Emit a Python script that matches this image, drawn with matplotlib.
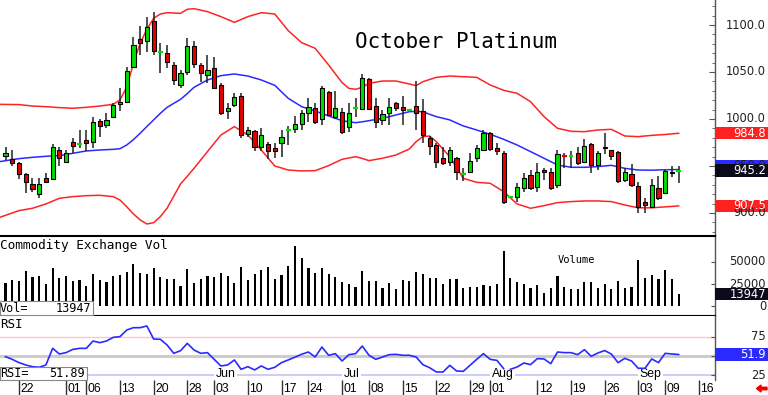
import matplotlib
matplotlib.use("Agg")
import matplotlib.pyplot as plt
from matplotlib.patches import Rectangle, FancyArrow
from matplotlib.transforms import blended_transform_factory
from matplotlib.ticker import MultipleLocator
import numpy as np

W, H = 768, 395

# ---- data: one entry per trading day, index 0 = 17 Apr 2019, index 100 = 11 Sep 2019 ----
opens = [961, 957.5, 953.5, 941, 931, 920, 937.5, 936, 967, 954.5,
         975, 973.5, 977.5, 976, 998, 993.5, 1002, 1015.5, 1018.5, 1055,
         1085, 1083.5, 1104.5, 1071, 1070.5, 1057.5, 1036, 1049.5, 1077.5, 1057,
         1047, 1054, 1036, 1009, 1015, 1024.5, 984, 987, 970.5, 973,
         969, 974, 988, 989, 994.5, 1006, 1011.5, 1000.5, 1028.5, 1002.5,
         1007, 991, 1011.5, 1010.5, 1042.5, 1014, 999, 1006.5, 1016.5, 1013,
         1009.5, 1014, 1008, 980, 972.5, 958, 954, 959, 941.5, 944,
         958, 967.5, 985.5, 969.5, 964, 917.5, 917.5, 926.5, 940.5, 928,
         945.5, 944, 930, 961, 960.5, 963.5, 954.5, 973, 951, 969,
         966.5, 964.5, 935, 941.5, 928.5, 912, 906.5, 926.5, 921.5, 943.5,
         945]
highs = [970.5, 967.5, 954.5, 942, 937, 937, 943, 973.5, 970.5, 967,
         980, 988, 988, 1002, 999.5, 1006, 1016.5, 1032.5, 1055.5, 1087.5,
         1099, 1109, 1114, 1080.5, 1078.5, 1061, 1052, 1086, 1082.5, 1060,
         1068, 1065.5, 1038, 1016.5, 1027.5, 1027.5, 992, 988.5, 990, 976,
         974, 988, 992.5, 1003, 1009.5, 1022, 1016.5, 1035, 1030, 1030,
         1011.5, 1016.5, 1022.5, 1048, 1043.5, 1022, 1009.5, 1022, 1018.5, 1024,
         1011, 1040.5, 1021, 982, 974, 970.5, 970.5, 960, 947.5, 963.5,
         972.5, 988, 986.5, 974, 965.5, 918, 931.5, 942, 945.5, 953,
         947.5, 947.5, 967.5, 963.5, 965.5, 970.5, 978.5, 974, 965.5, 985.5,
         967, 965.5, 947.5, 952, 932.5, 915.5, 936, 939.5, 945.5, 949.5,
         950]
lows = [956.5, 949.5, 936, 921, 922.5, 915.5, 931.5, 935, 949.5, 953,
        963.5, 969, 965.5, 969, 981, 990, 1001.5, 1008, 1018, 1054,
        1068, 1071.5, 1068, 1048.5, 1054, 1036, 1033.5, 1047, 1054, 1039.5,
        1038, 1031.5, 1004, 999.5, 1013, 979.5, 980.5, 965.5, 965.5, 957,
        958, 960, 972, 985, 988.5, 997, 994.5, 993.5, 1003, 1000.5,
        984, 986.5, 1002.5, 1009.5, 1009.5, 990, 993.5, 993.5, 1008, 993.5,
        1008, 988.5, 974, 961.5, 947.5, 951, 949.5, 935, 933.5, 942,
        954.5, 967, 965.5, 961.5, 909.5, 917, 912, 922.5, 924.5, 922.5,
        935, 924.5, 926.5, 947.5, 947.5, 951, 953, 942, 945.5, 963,
        956.5, 931.5, 932.5, 928, 900.5, 899.5, 906, 914, 920, 938.5,
        931.5]
closes = [963.5, 953, 941.5, 932.5, 926, 931, 932.5, 970.5, 958, 964,
          971.5, 973.5, 974, 996.5, 993, 999, 1015, 1018.5, 1051.5, 1078.5,
          1080.5, 1098, 1072.5, 1071, 1061, 1041, 1048.5, 1077.5, 1058.5, 1048.5,
          1052, 1033.5, 1006, 1012, 1023, 983, 988, 970.5, 983, 965.5,
          966, 981, 988, 994.5, 1006, 1012.5, 997, 1033.5, 1004.5, 1011.5,
          986.5, 1006, 1011.5, 1044, 1010.5, 997, 1005, 1012.5, 1011.5, 1009.5,
          1009.5, 1006, 983, 971.5, 954, 953.5, 967, 944, 941.5, 955.5,
          969, 985, 968, 965.5, 912, 917.5, 927.5, 937, 926.5, 944,
          944, 926.5, 963, 960.5, 961, 953, 971.5, 951, 963.5, 970.5,
          961, 934.5, 944, 930, 906.5, 908.5, 930, 915.5, 945, 942.5,
          945.2]
volume = [26600, 29600, 28900, 40000, 33300, 34400, 25200, 43300, 31500, 34000,
          28900, 29600, 22900, 36300, 29600, 27000, 34400, 35200, 38900, 48100,
          37700, 36300, 42900, 32600, 30300, 30300, 22900, 41800, 26600, 30700,
          34000, 33300, 37700, 34000, 25900, 44400, 29600, 35900, 41400, 44400,
          30700, 35200, 45100, 67700, 54400, 42900, 37700, 43300, 36600, 33300,
          27400, 25500, 21800, 39600, 28500, 28500, 21100, 26600, 20000, 29200,
          28500, 38900, 36600, 31400, 32200, 24800, 31100, 30300, 21100, 21800,
          21800, 23700, 22900, 24800, 61800, 32200, 27400, 24800, 20400, 23700,
          14800, 21100, 34000, 22200, 19200, 20000, 27400, 27400, 21100, 25500,
          20000, 28500, 21100, 21800, 52500, 31400, 35100, 30300, 41400, 31100,
          13947]
rsi = [49.1, 45.7, 41.5, 38.5, 36.3, 35.5, 38.5, 59.8, 52.6, 54.3,
       58.5, 59.8, 59.8, 69.2, 67.1, 69.2, 73.9, 74.8, 83.3, 86.3,
       86.3, 88.5, 71.8, 71.4, 64.1, 53.4, 56.8, 66.2, 57.7, 53.4,
       54.3, 45.7, 37.2, 38.5, 44.9, 32.9, 36.3, 32.1, 37.2, 32.9,
       35.5, 41.5, 44.9, 48.5, 52.3, 55.1, 48.7, 61.5, 50.9, 53.0,
       43.6, 51.7, 53.0, 62.8, 50.9, 45.7, 48.7, 51.7, 52.1, 50.9,
       50.9, 48.7, 38.9, 35.0, 29.5, 29.5, 38.0, 30.8, 30.3, 38.0,
       45.7, 53.0, 45.7, 44.4, 33.8, 32.9, 35.9, 41.0, 38.9, 46.6,
       46.2, 40.2, 55.1, 54.3, 54.3, 51.7, 58.1, 49.6, 53.8, 57.0,
       52.5, 41.5, 47.0, 43.6, 34.2, 34.2, 46.2, 41.5, 53.4, 52.6,
       51.89]
rsi_break = 75  # the RSI line is not joined between day 74 and day 75

# Bollinger bands, read at these day indices
band_idx = [-1, 2, 4, 6, 8, 10, 12, 14, 16, 17, 18, 19, 20, 21, 22, 23, 24, 26, 27, 28,
            30, 32, 34, 36, 38, 40, 42, 44, 46, 48, 50, 51, 52, 53, 54, 56, 58, 60, 61, 62,
            63, 64, 66, 68, 70, 72, 74, 76, 78, 80, 82, 84, 86, 88, 90, 92, 94, 96, 98, 100]
upper_band = [1015.6, 1015.3, 1013.8, 1013.1, 1012.1, 1011.4, 1012.4, 1013.8, 1015.6, 1020.2,
              1033.7, 1059.2, 1080.5, 1095.4, 1107.1, 1111.7, 1113.1, 1112.4, 1116.7, 1117.4,
              1114.2, 1108.9, 1102.8, 1108.9, 1113.1, 1111.7, 1094.0, 1081.2, 1075.2, 1057.5,
              1038.7, 1032.6, 1031.6, 1033.7, 1038.0, 1040.4, 1040.4, 1037.2, 1035.5, 1039.7,
              1042.0, 1044.3, 1045.7, 1045.0, 1044.3, 1036.2, 1030.5, 1027.3, 1018.4, 1002.5,
              990.1, 986.9, 986.5, 988.3, 989.0, 981.9, 981.2, 982.6, 983.5, 984.8]
middle_band = [954.5, 957.8, 959.2, 960.3, 961.0, 963.5, 966.0, 967.0, 967.7, 968.4,
               972.3, 978.0, 984.8, 992.0, 999.0, 1006.0, 1012.4, 1020.9, 1027.0, 1033.7,
               1041.5, 1046.1, 1047.9, 1045.7, 1041.5, 1035.8, 1022.0, 1013.1, 1008.5, 1003.2,
               998.2, 997.0, 996.1, 997.0, 998.2, 1000.7, 1004.3, 1007.8, 1008.0, 1007.8,
               1005.0, 1002.5, 999.0, 992.6, 988.3, 983.7, 978.4, 972.3, 965.3, 958.2,
               951.1, 948.6, 948.6, 949.3, 950.7, 947.5, 945.7, 945.5, 946.0, 946.2]
lower_band = [895.0, 902.5, 905.0, 909.6, 915.6, 917.4, 918.4, 918.8, 917.4, 913.8,
              906.7, 899.0, 892.6, 888.3, 889.7, 896.1, 905.0, 930.9, 939.0, 947.5,
              965.3, 983.0, 991.9, 983.0, 967.0, 950.0, 945.7, 944.7, 945.0, 950.4,
              957.1, 958.5, 959.9, 958.0, 955.7, 958.2, 961.7, 968.1, 975.9, 981.2,
              981.9, 975.9, 959.9, 936.9, 932.6, 931.6, 922.7, 909.6, 905.0, 907.8,
              911.0, 912.1, 912.8, 912.8, 912.1, 908.5, 905.5, 905.5, 906.5, 907.5]

tick_idx = [2, 9, 12, 17, 22, 27, 31, 36, 41, 45, 50, 54, 59, 64, 69, 72, 79, 84, 89, 94, 98, 103]
tick_labels = ["22", "01", "06", "13", "20", "28", "03", "10", "17", "24", "01",
               "08", "15", "22", "29", "01", "12", "19", "26", "03", "09", "16"]
month_idx = [31, 50, 72, 94]
month_labels = ["Jun", "Jul", "Aug", "Sep"]

price_ticks = [900, 950, 1000, 1050, 1100]
vol_ticks = [0, 25000, 50000]
rsi_ticks = [25, 75]

GREEN = "#00e000"
RED = "#e80000"
BAND_RED = "#ff2424"
BLUE = "#2a2aff"

fig = plt.figure(figsize=(W / 100, H / 100), dpi=100, facecolor="white")


def px_rect(left, top, right, bottom):
    return [left / W, 1 - bottom / H, (right - left) / W, (bottom - top) / H]


ax_p = fig.add_axes(px_rect(0, 0, 715, 236))
ax_v = fig.add_axes(px_rect(0, 236, 715, 316))
ax_r = fig.add_axes(px_rect(0, 316, 715, 380))
ax_d = fig.add_axes(px_rect(0, 380, 715, 395))

for a in (ax_p, ax_v, ax_r, ax_d):
    a.set_xlim(-0.82, 105.4)
    a.set_xticks([])
    for s in ("left", "top", "bottom"):
        a.spines[s].set_visible(False)
    a.spines["right"].set_color("#555555")
    a.spines["right"].set_linewidth(1.0)
    a.yaxis.tick_right()
    a.tick_params(axis="y", which="both", direction="in", color="#555555",
                  labelright=False, labelleft=False)
ax_d.spines["right"].set_visible(False)
ax_d.set_yticks([])
ax_d.set_ylim(0, 1)

# ---- price panel ----
x = np.arange(len(closes))
o = np.array(opens)
c = np.array(closes)
up = c >= o
flat = np.abs(c - o) < 0.8

ax_p.vlines(x, lows, highs, color="#202020", lw=1.1, zorder=3)
body = ~flat
ax_p.bar(x[body], np.abs(c - o)[body], bottom=np.minimum(o, c)[body], width=0.62,
         color=np.where(up, GREEN, RED)[body], edgecolor="black", linewidth=0.8, zorder=4)
ax_p.hlines(o[flat], x[flat] - 0.34, x[flat] + 0.34,
            colors=np.where(up, GREEN, RED)[flat], lw=1.6, zorder=4)

ax_p.plot(band_idx, upper_band, color=BAND_RED, lw=1.1, zorder=2)
ax_p.plot(band_idx, lower_band, color=BAND_RED, lw=1.1, zorder=2)
ax_p.plot(band_idx, middle_band, color=BLUE, lw=1.1, zorder=2)

ax_p.set_ylim(875.5, 1126.6)
ax_p.set_yticks(price_ticks)
ax_p.yaxis.set_minor_locator(MultipleLocator(10))
ax_p.tick_params(axis="y", which="major", length=4)
ax_p.tick_params(axis="y", which="minor", length=2)

fig.text(355 / W, 1 - 48 / H, "October Platinum", family="DejaVu Sans Mono",
         fontsize=15, va="baseline", ha="left", color="black")

# ---- volume panel ----
ax_v.bar(x, volume, width=0.32, color="black", zorder=2)
ax_v.set_ylim(-10650, 79000)
ax_v.set_yticks(vol_ticks)
ax_v.tick_params(axis="y", length=3)
for s in ("top", "bottom"):
    ax_v.spines[s].set_visible(True)
    ax_v.spines[s].set_color("black")
    ax_v.spines[s].set_linewidth(1.5)

fig.text(0, 1 - 248.5 / H, "Commodity Exchange Vol", family="DejaVu Sans Mono",
         fontsize=9.2, va="baseline", ha="left")
fig.text(558 / W, 1 - 263 / H, "Volume", family="DejaVu Sans Mono",
         fontsize=7.5, va="baseline", ha="left")

# ---- RSI panel ----
ax_r.set_ylim(19.2, 101.3)
ax_r.set_yticks(rsi_ticks + [50])
ax_r.tick_params(axis="y", length=3)
ax_r.axhline(75, color="#ffc4c4", lw=1.0, zorder=1)
ax_r.axhline(50, color="#cccccc", lw=2.2, zorder=1)
ax_r.axhline(25, color="#c4c4f4", lw=1.2, zorder=1)
ax_r.plot(x[:rsi_break], rsi[:rsi_break], color=BLUE, lw=1.2, zorder=3)
ax_r.plot(x[rsi_break:], rsi[rsi_break:], color=BLUE, lw=1.2, zorder=3)
for mi, ml in zip(month_idx, month_labels):
    ax_r.text(mi + 0.2, 26.5, ml, family="Liberation Sans", fontsize=8.8,
              ha="left", va="center", zorder=2,
              bbox=dict(boxstyle="square,pad=0.12", fc="white", ec="none"))
fig.text(0, 1 - 327.5 / H, "RSI", family="DejaVu Sans Mono", fontsize=9,
         va="baseline", ha="left")

# ---- date row ----
ax_d.vlines(tick_idx, 0, 1, color="#333333", lw=1.0)
for ti, tl in zip(tick_idx, tick_labels):
    ax_d.text(ti + 0.2, 0.17, tl, family="Liberation Sans", fontsize=8.8,
              ha="left", va="baseline", clip_on=False)

# ---- value boxes at bottom-left of panels ----
for top, bottom, right, name, val in [(301, 315, 93, "Vol=", "13947"),
                                      (367, 380, 87, "RSI=", "51.89")]:
    fig.add_artist(Rectangle((0, 1 - bottom / H), right / W, (bottom - top) / H,
                             transform=fig.transFigure, fc="white", ec="#888888",
                             lw=0.8, zorder=5))
    fig.text(0, 1 - (bottom - 3) / H, name, family="DejaVu Sans Mono", fontsize=8.5,
             va="baseline", ha="left", zorder=6)
    fig.text((right - 2) / W, 1 - (bottom - 3) / H, val, family="DejaVu Sans Mono",
             fontsize=8.5, va="baseline", ha="right", zorder=6)


# ---- right-hand scale labels ----
def right_label(ax, value, label, fc=None, color="#222222"):
    trans = blended_transform_factory(fig.transFigure, ax.transData)
    if fc is not None:
        lo, hi = ax.get_ylim()
        half = 6.2 * (hi - lo) / (ax.get_position().height * H)
        ax.add_patch(Rectangle((715 / W, value - half), 53 / W, 2 * half,
                               transform=trans, fc=fc, ec="none", clip_on=False, zorder=6))
        color = "white"
    ax.text(766 / W, value, label, transform=trans, ha="right", va="center",
            family="DejaVu Sans", fontsize=8.3, color=color, clip_on=False, zorder=7)


for v in price_ticks:
    right_label(ax_p, v, f"{v:.1f}")
right_label(ax_p, 984.8, "984.8", fc="#ff2020")
right_label(ax_p, 949.5, "", fc="#2a2aff")
right_label(ax_p, 945.2, "945.2", fc="#0a0a1a")
right_label(ax_p, 907.5, "907.5", fc="#ff2020")

for v in vol_ticks:
    right_label(ax_v, v, f"{v}")
right_label(ax_v, 13947, "13947", fc="#0a0a1a")

for v in rsi_ticks:
    right_label(ax_r, v, f"{v}")
right_label(ax_r, 51.89, "51.9", fc="#2a2aff")

# small red arrow in the bottom-right corner
fig.add_artist(FancyArrow(7.67, 0.065, -0.06, 0, width=0.025, head_width=0.07,
                          head_length=0.045, length_includes_head=False,
                          transform=fig.dpi_scale_trans, color="#ee0000", zorder=8))

fig.savefig("out.png", dpi=100, facecolor="white")
